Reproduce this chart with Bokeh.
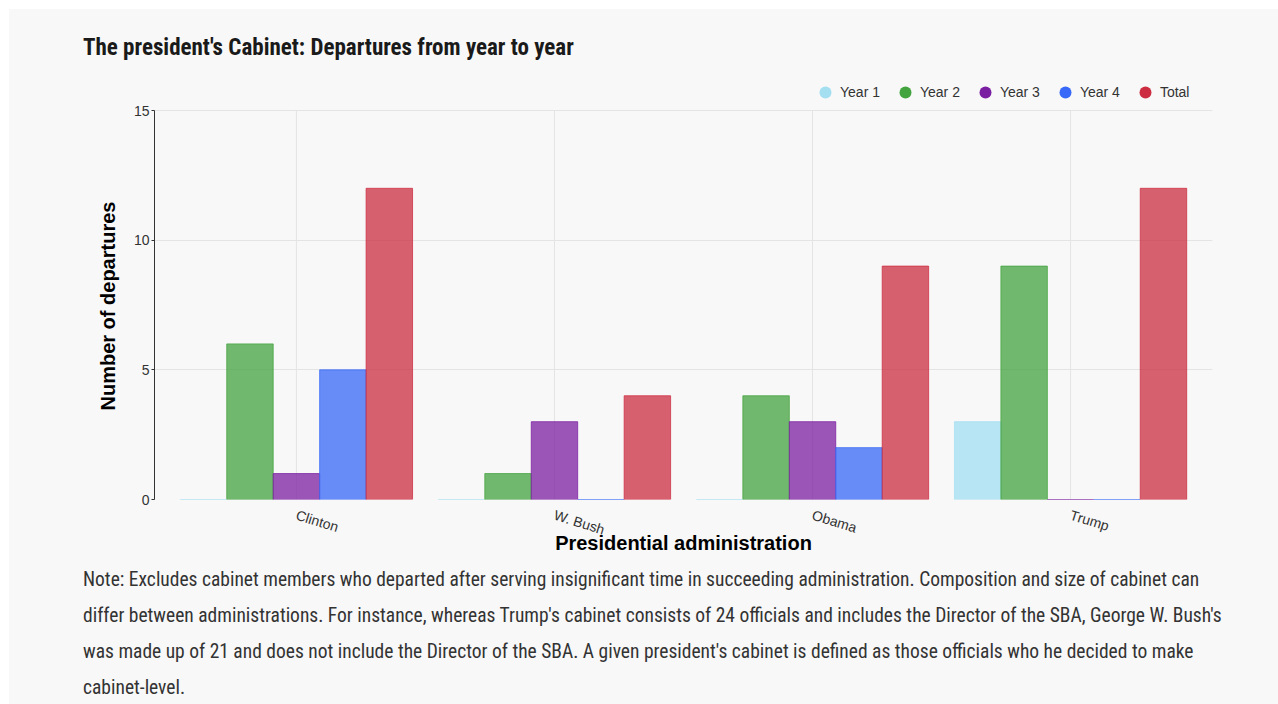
from bokeh.plotting import figure
from bokeh.models import (FactorRange, Range1d, Div, Legend, LegendItem, ColumnDataSource,
                          FixedTicker, Title)
from bokeh.layouts import column
from bokeh.transform import dodge
from bokeh.embed import file_html
from bokeh.resources import INLINE

# ---- data ----
admins = ["Clinton", "W. Bush", "Obama", "Trump"]
series = ["Year 1", "Year 2", "Year 3", "Year 4", "Total"]
year1 = [0, 0, 0, 3]
year2 = [6, 1, 4, 9]
year3 = [1, 3, 3, 0]
year4 = [5, 0, 2, 0]
total = [12, 4, 9, 12]
y_ticks = [0, 5, 10, 15]

title_text = "The president's Cabinet: Departures from year to year"
y_label = "Number of departures"
x_label = "Presidential administration"
note_lines = [
    "Note: Excludes cabinet members who departed after serving insignificant time in succeeding administration. Composition and size of cabinet can",
    "differ between administrations. For instance, whereas Trump's cabinet consists of 24 officials and includes the Director of the SBA, George W. Bush's",
    "was made up of 21 and does not include the Director of the SBA. A given president's cabinet is defined as those officials who he decided to make",
    "cabinet-level.",
]

# ---- styles ----
colors = ["#a3dff1", "#43a33f", "#7b1fa2", "#3768f7", "#cc2d41"]
offsets = [-0.36, -0.18, 0.0, 0.18, 0.36]
BG = "#f8f8f8"
GRID = "#e4e4e4"
NARROW = "'Liberation Sans Narrow', 'Roboto Condensed', 'Liberation Sans', sans-serif"

PLOT_H = 389          # pixel height of the 0..15 value area
EXTRA_TOP = 34        # room above the value area for the legend
y_max = y_ticks[-1]
y_top = y_max * (PLOT_H + EXTRA_TOP) / PLOT_H

source = ColumnDataSource(dict(admin=admins, y1=year1, y2=year2, y3=year3, y4=year4, tot=total))
cols = ["y1", "y2", "y3", "y4", "tot"]

p = figure(
    x_range=FactorRange(*admins, range_padding=0.05, range_padding_units="absolute"),
    y_range=Range1d(0, y_top),
    frame_width=1058, frame_height=PLOT_H + EXTRA_TOP,
    min_border_left=145, min_border_right=66, min_border_top=7, min_border_bottom=50,
    output_backend="svg", toolbar_location=None,
    background_fill_color=BG, border_fill_color=BG,
)
p.outline_line_color = None

# vertical grid lines at category centres, only up to the top tick
p.segment(x0=admins, y0=[y_ticks[0]] * len(admins), x1=admins, y1=[y_max] * len(admins),
          line_color=GRID, line_width=1)

legend_items = []
for c, col, off, name in zip(colors, cols, offsets, series):
    xd = dodge("admin", off, range=p.x_range)
    p.vbar(x=xd, top=col, width=0.18, source=source,
           fill_color=c, fill_alpha=0.75, line_color=c, line_alpha=0.75, line_width=1)
    # zero-size markers: only used for the round legend swatches
    r = p.scatter(x=xd, y=col, source=source, marker="circle", size=0,
                  fill_color=c, line_color=None)
    legend_items.append(LegendItem(label=name, renderers=[r]))

legend = Legend(items=legend_items, orientation="horizontal",
                location=(656, 392),
                glyph_width=30, glyph_height=30, label_standoff=0, spacing=10,
                padding=0, margin=0, border_line_color=None, background_fill_alpha=0,
                label_text_font="Liberation Sans", label_text_font_size="14px",
                label_text_color="#333333", label_height=14, label_width=10)
p.add_layout(legend, "center")

# y axis
p.yaxis.ticker = FixedTicker(ticks=y_ticks)
p.yaxis.bounds = (y_ticks[0], y_max)
p.yaxis.minor_tick_line_color = None
p.yaxis.major_tick_in = 0
p.yaxis.major_tick_out = 3
p.yaxis.major_label_standoff = 2
p.yaxis.axis_line_color = "#333333"
p.yaxis.major_tick_line_color = "#333333"
p.yaxis.major_label_text_font = "Liberation Sans"
p.yaxis.major_label_text_font_size = "14px"
p.yaxis.major_label_text_color = "#333333"

# y axis title, centred on the 0..15 area (starts 89px above the frame bottom)
p.add_layout(Title(text=y_label, align="left", offset=89, standoff=24,
                   text_font="Liberation Sans", text_font_style="bold",
                   text_font_size="20px", text_color="#000000"), "left")

# x axis
p.xaxis.axis_line_color = None
p.xaxis.major_tick_line_color = None
p.xaxis.minor_tick_line_color = None
p.xaxis.major_label_orientation = -0.3
p.xaxis.major_label_standoff = 9
p.xaxis.major_label_text_font = "Liberation Sans"
p.xaxis.major_label_text_font_size = "14px"
p.xaxis.major_label_text_color = "#333333"
p.xaxis.axis_label = x_label
p.xaxis.axis_label_text_font = "Liberation Sans"
p.xaxis.axis_label_text_font_style = "bold"
p.xaxis.axis_label_text_font_size = "20px"
p.xaxis.axis_label_text_color = "#000000"
p.xaxis.axis_label_standoff = -16

p.xgrid.visible = False
p.ygrid.grid_line_color = GRID

title_div = Div(
    text=title_text, width=1195, height=60, margin=(0, 0, 0, 74),
    styles={"font-family": NARROW, "font-weight": "bold", "font-size": "23px",
            "color": "#1a1a1a", "padding-top": "23px", "white-space": "nowrap"},
)
note_div = Div(
    text="<br>".join(note_lines), width=1195, height=150, margin=(0, 0, 0, 74),
    styles={"font-family": NARROW, "font-size": "19.5px", "line-height": "36px",
            "color": "#333333", "padding-top": "5px", "white-space": "nowrap"},
)

layout = column(title_div, p, note_div, margin=(9, 0, 0, 9), spacing=0,
                styles={"background-color": BG})

open("out.html", "w").write(file_html(layout, INLINE))
